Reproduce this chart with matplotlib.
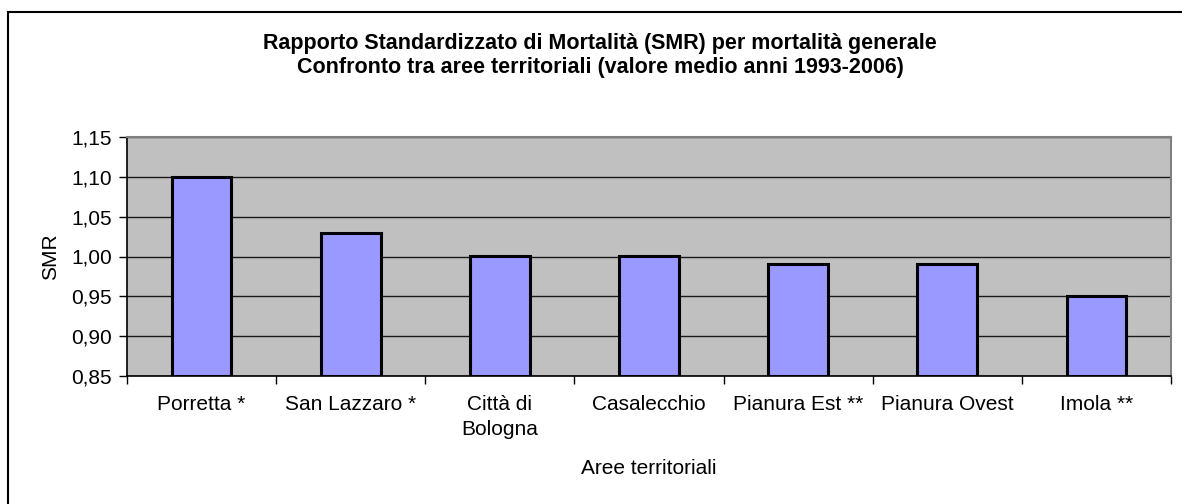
import numpy as np
import matplotlib
matplotlib.use("Agg")
import matplotlib.pyplot as plt
from matplotlib.patches import Rectangle
from matplotlib.ticker import FuncFormatter, FixedLocator

plt.rcParams['font.family'] = ['Liberation Sans', 'DejaVu Sans']

# dati
aree = ["Porretta *", "San Lazzaro *", "Città di\nBologna", "Casalecchio",
        "Pianura Est **", "Pianura Ovest", "Imola **"]
smr = [1.10, 1.03, 1.00, 1.00, 0.99, 0.99, 0.95]
yticks = [0.85, 0.90, 0.95, 1.00, 1.05, 1.10, 1.15]

W, H = 1182, 504
fig = plt.figure(figsize=(W / 100, H / 100), dpi=100)
ax = fig.add_axes([127 / W, 1 - 376 / H, (1171 - 127) / W, (376 - 137) / H])
ax.set_facecolor('#C0C0C0')

x = np.arange(len(aree))
ax.bar(x, [v - 0.85 for v in smr], bottom=0.85, width=0.40,
       color='#9999FF', edgecolor='black', linewidth=2.2, zorder=3)

ax.set_xlim(-0.5, len(aree) - 0.5)
ax.set_ylim(0.85, 1.15)
ax.set_yticks(yticks)
ax.yaxis.set_major_formatter(FuncFormatter(lambda v, p: ("%.2f" % v).replace('.', ',')))
ax.grid(axis='y', color='#1a1a1a', lw=1.0, zorder=1)

# tacche ai confini di categoria, etichette al centro
ax.xaxis.set_major_locator(FixedLocator(np.arange(len(aree) + 1) - 0.5))
ax.xaxis.set_minor_locator(FixedLocator(x))
ax.set_xticklabels([])
ax.set_xticklabels(aree, minor=True, linespacing=1.35)
ax.tick_params(axis='x', which='major', length=6, width=1, direction='out')
ax.tick_params(axis='x', which='minor', length=0, pad=14, labelsize=15)
ax.tick_params(axis='y', length=6, width=1, pad=5, labelsize=15)

for s in ['top', 'right']:
    ax.spines[s].set_color('#808080')
    ax.spines[s].set_linewidth(1.5)
for s in ['left', 'bottom']:
    ax.spines[s].set_color('black')
    ax.spines[s].set_linewidth(1.2)

ax.set_ylabel("SMR", fontsize=15, labelpad=8)
fig.text(649 / W, 1 - 468 / H, "Aree territoriali", fontsize=15, ha='center', va='center')
fig.text(600 / W, 1 - 44 / H, "Rapporto Standardizzato di Mortalità (SMR) per mortalità generale",
         fontsize=15.5, fontweight='bold', ha='center', va='center')
fig.text(600 / W, 1 - 68 / H, "Confronto tra aree territoriali (valore medio anni 1993-2006)",
         fontsize=15.5, fontweight='bold', ha='center', va='center')

# cornice esterna del grafico (tagliata a destra e in basso)
fig.patches.append(Rectangle((8 / W, -0.5), 2, 1.5 - 11.5 / H, transform=fig.transFigure,
                             fill=False, edgecolor='black', lw=1.5))

fig.savefig("out.png", dpi=100)
